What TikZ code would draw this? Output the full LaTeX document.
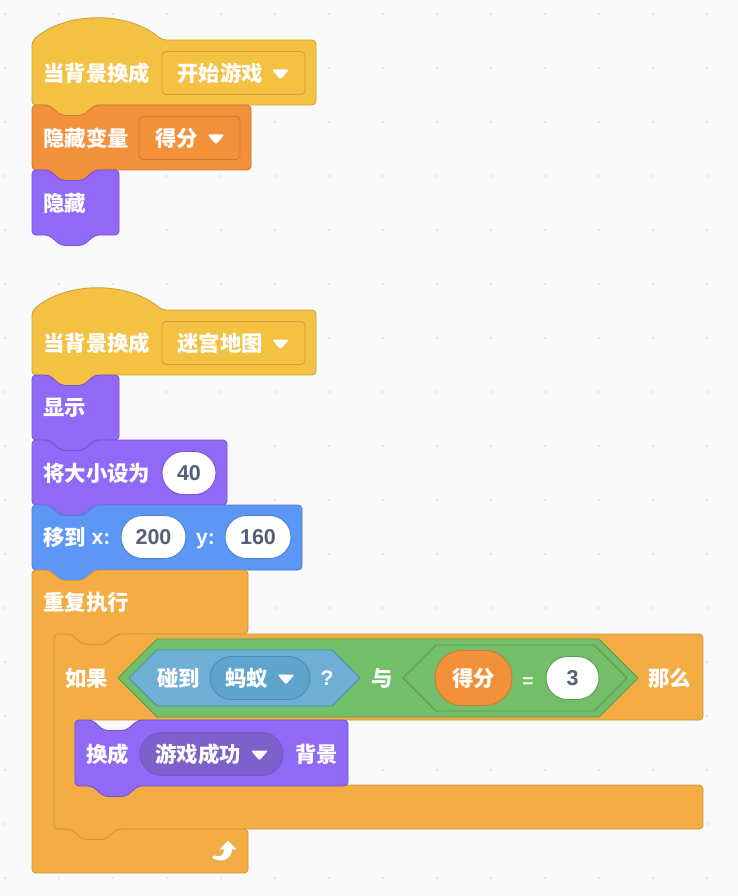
\documentclass[tikz,border=0pt]{standalone}
\usepackage{fontspec}
\setmainfont{Noto Sans CJK SC}
\newfontfamily\numfont{Liberation Sans}

\definecolor{pagebg}{HTML}{F9F9F9}
\definecolor{gridgray}{HTML}{E4E4E6}
\definecolor{eventcol}{HTML}{F5C142}
\definecolor{eventline}{HTML}{CFA33E}
\definecolor{datacol}{HTML}{F3913B}
\definecolor{dataline}{HTML}{CC7C35}
\definecolor{lookcol}{HTML}{9069F7}
\definecolor{lookline}{HTML}{7656CC}
\definecolor{lookdark}{HTML}{7E5FCB}
\definecolor{movecol}{HTML}{5C97F6}
\definecolor{moveline}{HTML}{4E80CC}
\definecolor{ctrlcol}{HTML}{F4AD44}
\definecolor{ctrlline}{HTML}{CE9640}
\definecolor{opcol}{HTML}{73BE69}
\definecolor{opline}{HTML}{5A9A52}
\definecolor{sensecol}{HTML}{70AFD5}
\definecolor{sensedark}{HTML}{5FA4CD}
\definecolor{senseline}{HTML}{4F8DB3}
\definecolor{numcol}{HTML}{575E75}

% l, t, r, b
\newcommand{\stackblock}[5]{
  \draw[#1] (#2,#3+12) -- (#2,#3) -- (#2+17,#3) -- (#2+29,#3+10.5) -- (#2+51,#3+10.5) -- (#2+63,#3)
    -- (#4,#3) -- (#4,#5) -- (#2+63,#5) -- (#2+51,#5+10.5) -- (#2+29,#5+10.5) -- (#2+17,#5) -- (#2,#5) -- cycle;
}
\newcommand{\hatblock}[5]{
  \draw[#1] (#2,#3+12) -- (#2,#3) .. controls (#2+34,#3-30) and (#2+96,#3-30) .. (#2+130,#3-1)
    -- (#4,#3-1) -- (#4,#5) -- (#2+63,#5) -- (#2+51,#5+10.5) -- (#2+29,#5+10.5) -- (#2+17,#5) -- (#2,#5) -- cycle;
}
% left tip, right tip, mid y, half height
\newcommand{\hexblock}[5]{
  \draw[#1] (#2,#4) -- (#2+#5,#4-#5) -- (#3-#5,#4-#5) -- (#3,#4) -- (#3-#5,#4+#5) -- (#2+#5,#4+#5) -- cycle;
}
\newcommand{\droptri}[2]{
  \fill[white,rounded corners=2pt] (#1-8.5,#2-4.5) -- (#1+8.5,#2-4.5) -- (#1,#2+5.5) -- cycle;
}

\begin{document}
\begin{tikzpicture}[x=1pt,y=-1pt]
  \tikzset{
    block/.style={rounded corners=4pt,line width=0.9pt},
    eventblock/.style={block,fill=eventcol,draw=eventline},
    datablock/.style={block,fill=datacol,draw=dataline},
    lookblock/.style={block,fill=lookcol,draw=lookline},
    moveblock/.style={block,fill=movecol,draw=moveline},
    ctrlblock/.style={block,fill=ctrlcol,draw=ctrlline},
    txt/.style={anchor=west,inner sep=0pt,yshift=-0.3pt,text=white,font=\fontsize{21.4}{24}\bfseries},
    field/.style={rectangle,rounded corners=4pt,line width=0.9pt,inner sep=0pt,minimum height=43pt},
    pill/.style={rectangle,rounded corners=21.5pt,line width=0.9pt,inner sep=0pt,minimum height=43pt},
    numpill/.style={pill,fill=white,draw=#1,text=numcol,text height=15pt,text depth=0pt,font=\fontsize{21.5}{24}\numfont\bfseries},
    lat/.style={inner sep=0pt,text=white,text height=15pt,text depth=0pt,font=\fontsize{21}{24}\numfont\bfseries}
  }

  \fill[pagebg] (0,0) rectangle (738,896);
  \foreach \i in {0,...,13}
    \foreach \j in {0,...,16}
      \fill[gridgray] (5+54*\i,14+54*\j) circle (1.4pt);

  % first stack
  \hatblock{eventblock}{32}{41}{316}{105}
  \node[field,fill=eventcol,draw=eventline,minimum width=143pt] (field1) at (233.5,73) {};
  \node[txt] (when1) at (43,73) {当背景换成};
  \node[txt] (back1) at (177,73) {开始游戏};
  \droptri{280.5}{74}

  \stackblock{datablock}{32}{105}{251}{170}
  \node[field,fill=datacol,draw=dataline,minimum width=101pt] (field2) at (189.5,138) {};
  \node[txt] (hidevar) at (43,138) {隐藏变量};
  \node[txt] (score1) at (155,138) {得分};
  \droptri{216}{139}

  \stackblock{lookblock}{32}{170}{119}{235}
  \node[txt] (hide) at (43,203) {隐藏};

  % second stack
  \hatblock{eventblock}{32}{311}{316}{375}
  \node[field,fill=eventcol,draw=eventline,minimum width=143pt] (field3) at (233.5,343) {};
  \node[txt] (when2) at (43,343) {当背景换成};
  \node[txt] (back2) at (177,343) {迷宫地图};
  \droptri{280.5}{344}

  \stackblock{lookblock}{32}{375}{119}{440}
  \node[txt] (show) at (43,408) {显示};

  \stackblock{lookblock}{32}{440}{227}{505}
  \node[txt] (setsize) at (43,473) {将大小设为};
  \node[numpill=lookline,minimum width=54pt] (size) at (189,473) {40};

  \stackblock{moveblock}{32}{505}{302}{570}
  \node[txt] (goto) at (43,537) {移到};
  \node[lat] (xlab) at (101,537) {x:};
  \node[numpill=moveline,minimum width=65pt] (xval) at (153.5,537) {200};
  \node[lat] (ylab) at (205.5,537) {y:};
  \node[numpill=moveline,minimum width=66pt] (yval) at (258,537) {160};

  % loop
  \draw[ctrlblock] (32,582) -- (32,570) -- (49,570) -- (61,580.5) -- (83,580.5) -- (95,570) -- (248,570) -- (248,634) -- (125,634)
    -- (125,655) -- (54,655) -- (54,829) -- (248,829) -- (248,873) -- (32,873) -- cycle;
  \node[txt] (forever) at (43,602) {重复执行};

  \draw[ctrlblock] (54,646) -- (54,634) -- (71,634) -- (83,644.5) -- (105,644.5) -- (117,634) -- (703,634) -- (703,720) -- (75,720)
    -- (75,785) -- (703,785) -- (703,829) -- (117,829) -- (105,839.5) -- (83,839.5) -- (71,829) -- (54,829) -- cycle;
  \node[txt] (ifword) at (65,678) {如果};
  \node[txt] (thenword) at (648,678) {那么};

  \hexblock{fill=opcol,draw=opline,line width=0.9pt}{118}{638}{678}{39}
  \hexblock{fill=sensecol,draw=senseline,line width=0.9pt}{129}{360}{678}{28}
  \node[txt] (touch) at (157,678) {碰到};
  \node[pill,fill=sensedark,draw=senseline,minimum width=100pt] (antfield) at (260,678) {};
  \node[txt] (ant) at (225,678) {蚂蚁};
  \droptri{286}{679}
  \node[lat] (qmark) at (327,678) {?};
  \node[txt] (andword) at (371,678) {与};

  \hexblock{fill=opcol,draw=opline,line width=0.9pt}{403}{627}{678}{33}
  \node[pill,fill=datacol,draw=dataline,minimum width=77pt,minimum height=55pt,rounded corners=27pt] (scorevar) at (473.5,678) {};
  \node[txt] (score2) at (452,678) {得分};
  \node[lat,font=\fontsize{19}{24}\numfont\bfseries] (eq) at (528,680) {=};
  \node[numpill=opline,minimum width=53pt] (three) at (572.5,678) {3};

  \stackblock{lookblock}{75}{720}{348}{786}
  \node[txt] (switchto) at (86,754) {换成};
  \node[pill,fill=lookdark,draw=lookline,minimum width=143pt] (winfield) at (211.5,754) {};
  \node[txt] (win) at (155,754) {游戏成功};
  \droptri{259.5}{755}
  \node[txt] (backword) at (295,754) {背景};

  % loop arrow
  \draw[fill=white,draw=ctrlline,line width=0.4pt] (228,840) -- (237,849.5) -- (232.5,849.5) .. controls (232,859) and (222,865) .. (211,857.5)
    -- (214,855) .. controls (220,857) and (224,855) .. (223.5,849.5) -- (219,849.5) -- cycle;

  \useasboundingbox (0,0) rectangle (738,896);
\end{tikzpicture}
\end{document}
